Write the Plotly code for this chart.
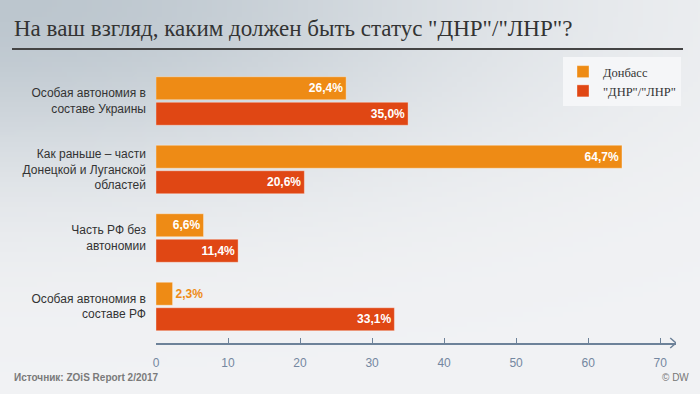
import base64, struct, zlib, math
import plotly.graph_objects as go

# ---- data ----
categories = [
    "Особая автономия в<br>составе Украины",
    "Как раньше – части<br>Донецкой и Луганской<br>областей",
    "Часть РФ без<br>автономии",
    "Особая автономия в<br>составе РФ",
]
donbass = [26.4, 64.7, 6.6, 2.3]
dnr_lnr = [35.0, 20.6, 11.4, 33.1]
series_names = ["Донбасс", "\"ДНР\"/\"ЛНР\""]
x_ticks = [0, 10, 20, 30, 40, 50, 60, 70]

ORANGE = "#EE8B15"
RED = "#E04714"

W, H = 700, 394
L, R, T, B = 156, 24, 67, 51
pw, ph = W - L - R, H - T - B


def bg_png(w=140, h=79, scale=5):
    dark = (188, 198, 206)
    light = (241, 242, 244)
    raw = b""
    for j in range(h):
        raw += b"\x00"
        for i in range(w):
            px, py = i * scale, j * scale
            f = math.exp(-((px / 480) ** 2 + (py / 170) ** 2))
            raw += bytes(int(round(light[k] - (light[k] - dark[k]) * f)) for k in range(3))

    def chunk(tag, data):
        c = struct.pack(">I", len(data)) + tag + data
        return c + struct.pack(">I", zlib.crc32(tag + data) & 0xFFFFFFFF)

    png = b"\x89PNG\r\n\x1a\n" + chunk(b"IHDR", struct.pack(">IIBBBBB", w, h, 8, 2, 0, 0, 0))
    png += chunk(b"IDAT", zlib.compress(raw, 9)) + chunk(b"IEND", b"")
    return "data:image/png;base64," + base64.b64encode(png).decode()


def fmt(v):
    return f"{v:.1f}".replace(".", ",") + "%"


def make_trace(vals, name, color):
    pos = ["inside" if v > 4 else "outside" for v in vals]
    tcol = ["white" if v > 4 else color for v in vals]
    return go.Bar(
        y=list(range(len(categories))), x=vals, orientation="h", name=name,
        marker=dict(color=color, line=dict(color="rgba(255,255,255,0.35)", width=1)),
        text=[fmt(v) for v in vals], textposition=pos, insidetextanchor="end",
        textfont=dict(family="Liberation Sans, Arial", size=12, color=tcol, weight="bold"),
        cliponaxis=False, hoverinfo="skip",
    )


fig = go.Figure()
fig.add_trace(make_trace(donbass, series_names[0], ORANGE))
fig.add_trace(make_trace(dnr_lnr, series_names[1], RED))

axis_col = "#6d8299"
fig.update_layout(
    width=W, height=H,
    margin=dict(l=L, r=R, t=T, b=B, autoexpand=False),
    paper_bgcolor="#f1f2f4", plot_bgcolor="rgba(0,0,0,0)",
    barmode="group", bargap=0.255, bargroupgap=0.1,
    showlegend=True,
    legend=dict(
        xref="container", yref="container",
        x=563 / W, y=1 - 57 / H, xanchor="left", yanchor="top",
        bgcolor="#f5f6f8", font=dict(family="Liberation Serif, serif", size=12.5, color="#333"),
        traceorder="normal", itemwidth=30, tracegroupgap=0,
    ),
    xaxis=dict(
        range=[0, 72.2], tickvals=x_ticks, ticktext=[str(t) for t in x_ticks],
        showgrid=False, zeroline=False, showline=True, linecolor=axis_col, linewidth=1.5,
        ticks="inside", ticklen=5, tickcolor=axis_col, tickwidth=1,
        tickfont=dict(family="Liberation Sans, Arial", size=12, color="#7487a0"),
        ticklabelstandoff=8, fixedrange=True, automargin=False,
    ),
    yaxis=dict(
        tickvals=list(range(len(categories))), ticktext=categories,
        range=[3 + 36.5 / 68.5, -34 / 68.5],
        showgrid=False, zeroline=False, showline=False, ticks="",
        tickfont=dict(family="Liberation Sans, Arial", size=12, color="#333"),
        ticklabelstandoff=9, fixedrange=True, automargin=False,
    ),
    images=[dict(
        source=bg_png(), xref="paper", yref="paper",
        x=-L / pw, y=(H - B) / ph, sizex=W / pw, sizey=H / ph,
        sizing="stretch", layer="below", xanchor="left", yanchor="top",
    )],
    shapes=[
        dict(type="line", xref="paper", yref="paper",
             x0=(12 - L) / pw, x1=(683 - L) / pw, y0=(H - B - 49) / ph, y1=(H - B - 49) / ph,
             line=dict(color="#444", width=2)),
        dict(type="path", xref="x", yref="paper",
             path=f"M {72.2 - 0.8} {5 / ph} L 72.2 0 L {72.2 - 0.8} {-5 / ph}",
             line=dict(color=axis_col, width=1.5)),
    ],
    annotations=[
        dict(text="На ваш взгляд, каким должен быть статус \"ДНР\"/\"ЛНР\"?",
             xref="paper", yref="paper", x=(12 - L) / pw, y=(H - B - 28) / ph,
             xanchor="left", yanchor="middle", showarrow=False,
             font=dict(family="Liberation Serif, serif", size=23, color="#333")),
        dict(text="<b>Источник: ZOiS Report 2/2017</b>",
             xref="paper", yref="paper", x=(12 - L) / pw, y=(H - B - 377) / ph,
             xanchor="left", yanchor="middle", showarrow=False,
             font=dict(family="Liberation Sans, Arial", size=10, color="#7a7a7a")),
        dict(text="© DW",
             xref="paper", yref="paper", x=(691 - L) / pw, y=(H - B - 377) / ph,
             xanchor="right", yanchor="middle", showarrow=False,
             font=dict(family="Liberation Sans, Arial", size=10, color="#777")),
    ],
)

fig.write_html("out.html", config={"displayModeBar": False},
               post_script="document.body.style.margin='0';document.body.style.background='#f1f2f4';")
